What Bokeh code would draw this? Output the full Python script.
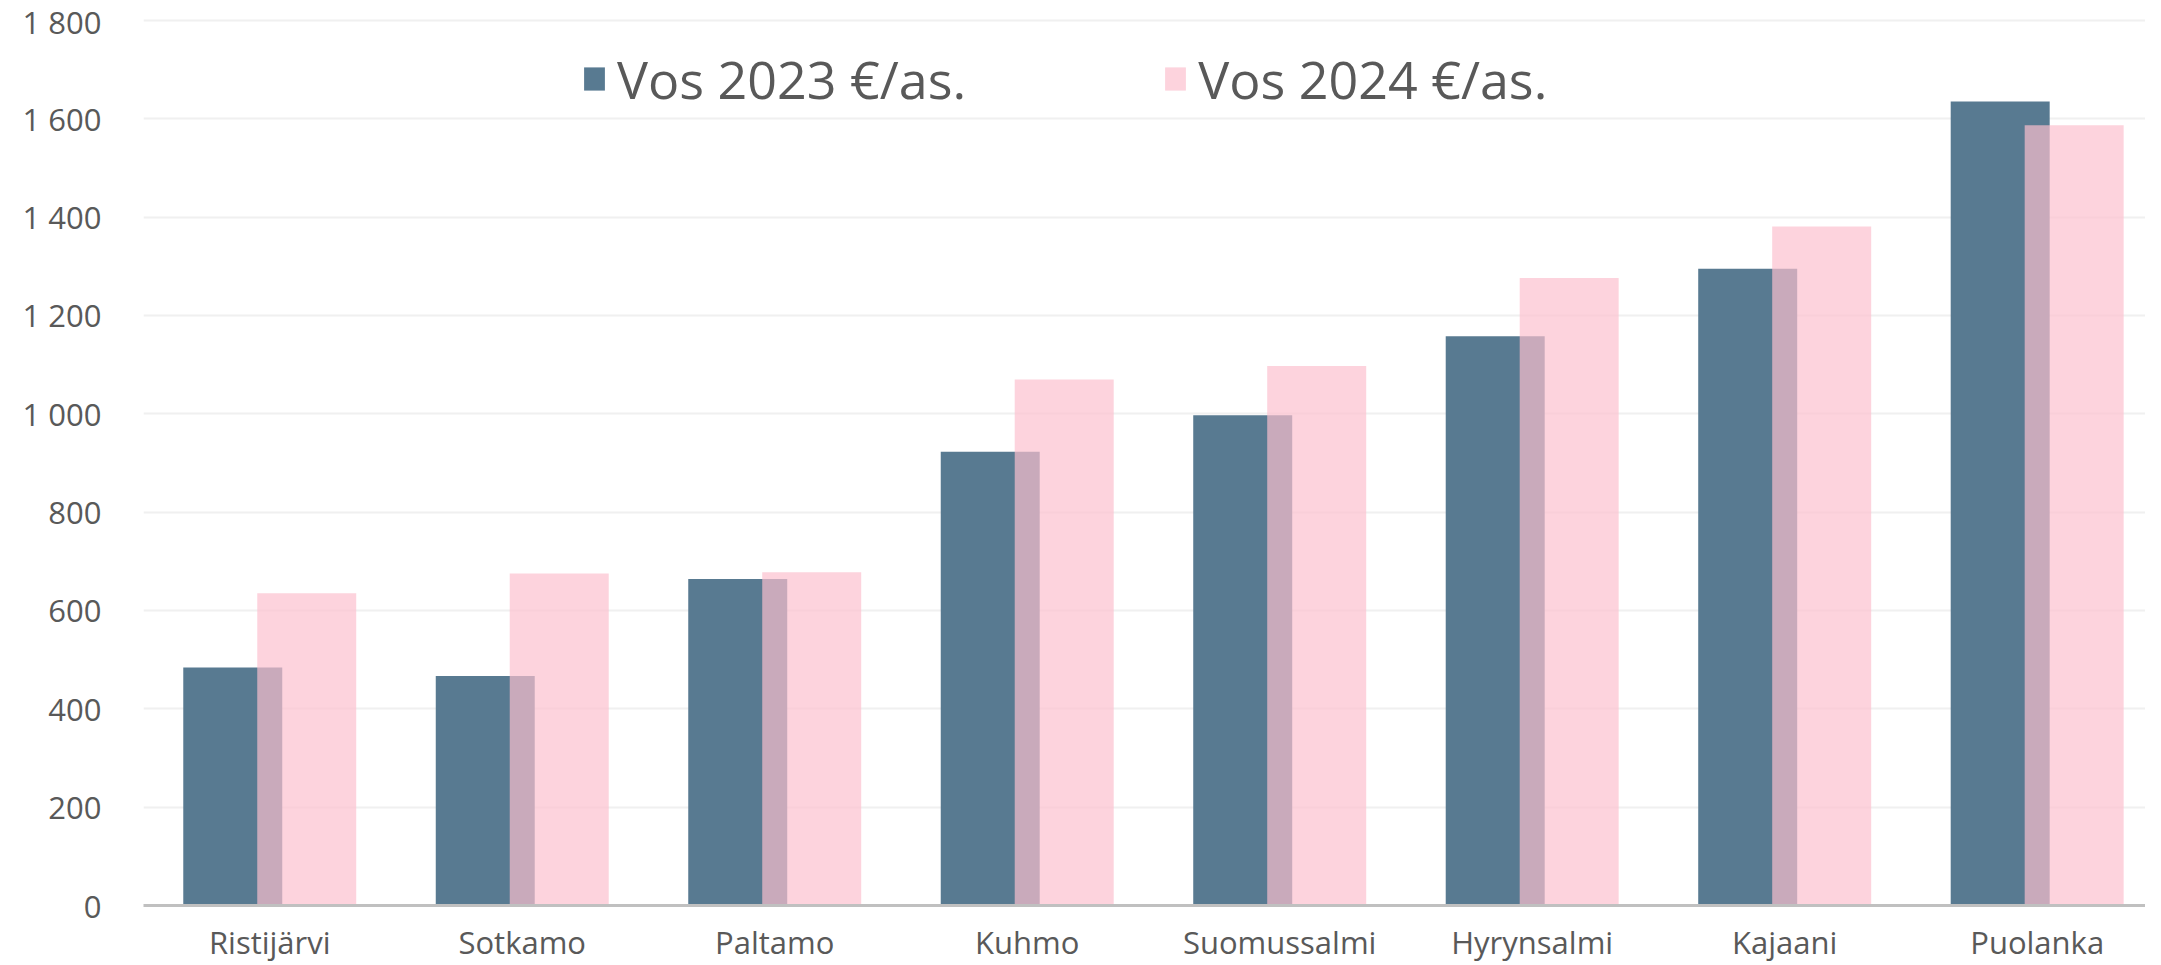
from bokeh.plotting import figure
from bokeh.models import ColumnDataSource, FixedTicker, Legend, LegendItem, Range1d
from bokeh.transform import dodge
from bokeh.embed import file_html
from bokeh.resources import INLINE

categories = ["Ristijärvi", "Sotkamo", "Paltamo", "Kuhmo", "Suomussalmi",
              "Hyrynsalmi", "Kajaani", "Puolanka"]
vos_2023 = [484, 467, 664, 923, 997, 1158, 1295, 1635]
vos_2024 = [635, 675, 678, 1070, 1097, 1276, 1381, 1587]
series_names = ["Vos 2023 €/as.", "Vos 2024 €/as."]
y_ticks = [0, 200, 400, 600, 800, 1000, 1200, 1400, 1600, 1800]
y_tick_labels = ["0", "200", "400", "600", "800", "1 000", "1 200", "1 400", "1 600", "1 800"]

FONT = "Open Sans"
TXT = "#595959"
DARK = "#587a91"
PINK = "#fcbfce"

positions = list(range(len(categories)))
src = ColumnDataSource(dict(pos=positions, cat=categories, v23=vos_2023, v24=vos_2024))

p = figure(width=2145, height=965, output_backend="svg", toolbar_location=None,
           x_range=Range1d(-0.5, 7.429), y_range=Range1d(0, 1840.6),
           min_border_left=143, min_border_right=0, min_border_top=0,
           min_border_bottom=54)
p.outline_line_color = None
p.background_fill_color = "white"
p.border_fill_color = "white"

r23 = p.vbar(x=dodge("pos", -0.1465, range=p.x_range), top="v23", width=0.392,
             source=src, fill_color=DARK, line_color=None)
r24 = p.vbar(x=dodge("pos", 0.1465, range=p.x_range), top="v24", width=0.392,
             source=src, fill_color=PINK, fill_alpha=0.69, line_color=None)

# x axis
p.xaxis.ticker = FixedTicker(ticks=positions)
p.xaxis.major_label_overrides = {i: c for i, c in zip(positions, categories)}
p.xaxis.major_tick_line_color = None
p.xaxis.minor_tick_line_color = None
p.xaxis.axis_line_color = "#c0c0c0"
p.xaxis.axis_line_width = 3
p.xaxis.major_label_text_font = FONT
p.xaxis.major_label_text_font_size = "31px"
p.xaxis.major_label_text_color = TXT
p.xaxis.major_label_standoff = 9

# y axis
p.yaxis.ticker = FixedTicker(ticks=y_ticks)
p.yaxis.major_label_overrides = {t: l for t, l in zip(y_ticks, y_tick_labels)}
p.yaxis.major_tick_line_color = None
p.yaxis.minor_tick_line_color = None
p.yaxis.axis_line_color = None
p.yaxis.major_label_text_font = FONT
p.yaxis.major_label_text_font_size = "31px"
p.yaxis.major_label_text_color = TXT
p.yaxis.major_label_standoff = 36

p.xgrid.grid_line_color = None
p.ygrid.grid_line_color = "#f0f0f0"
p.ygrid.grid_line_width = 2

legend = Legend(items=[LegendItem(label=series_names[0], renderers=[r23]),
                       LegendItem(label=series_names[1], renderers=[r24])],
                orientation="horizontal", location=(438, 791),
                border_line_color=None, background_fill_alpha=0,
                padding=0, margin=0, spacing=196,
                glyph_width=26, glyph_height=29, label_standoff=10,
                label_text_font=FONT, label_text_font_size="52px",
                label_text_color=TXT)
p.add_layout(legend)

open("out.html", "w").write(file_html(p, INLINE))
